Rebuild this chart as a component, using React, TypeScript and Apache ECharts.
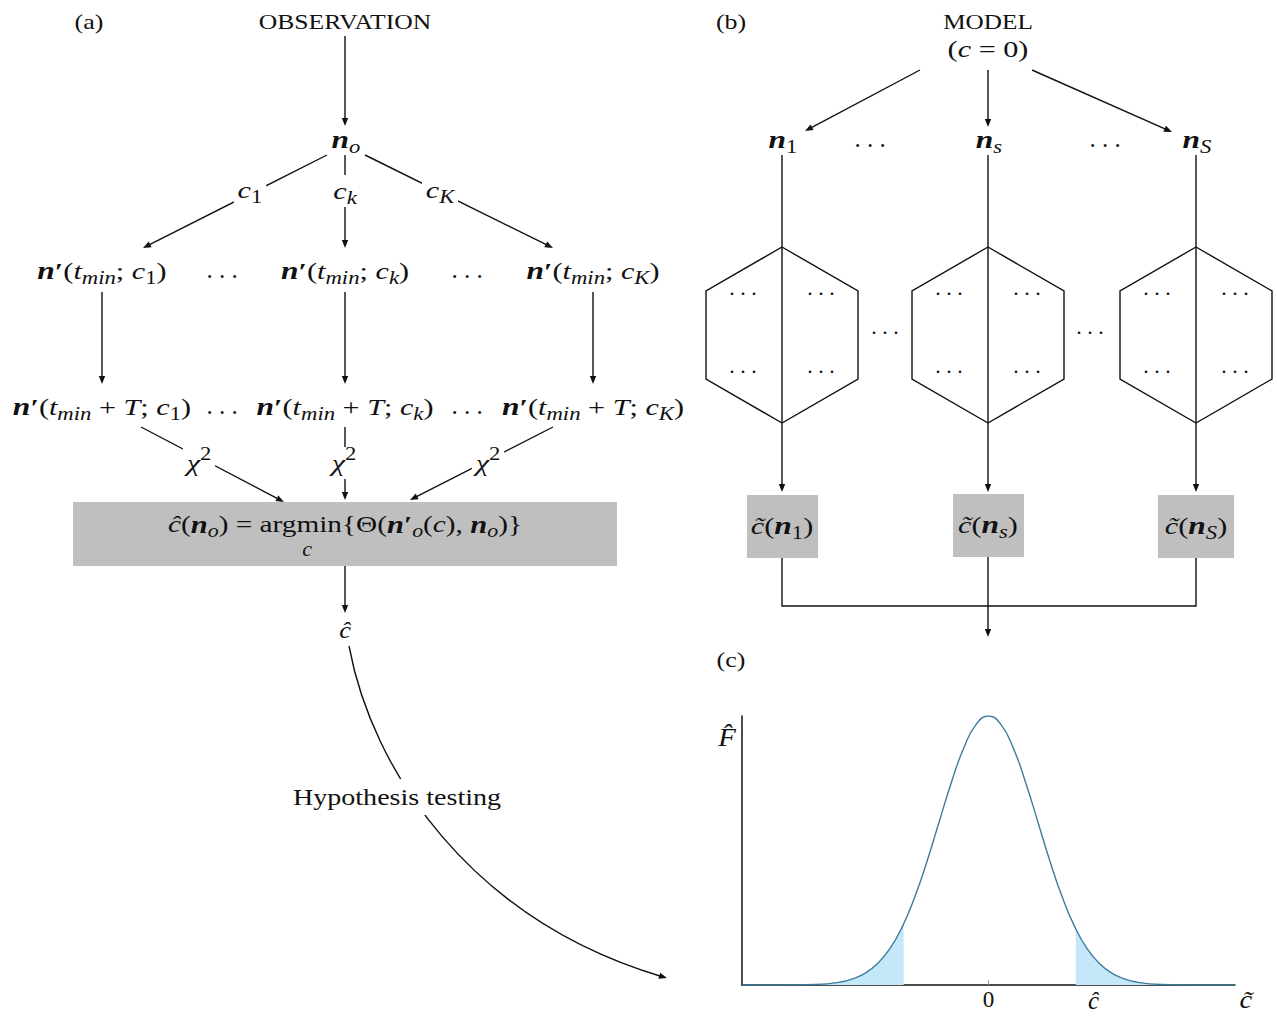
import React, { useEffect, useRef } from 'react';
import * as echarts from 'echarts';

const FF = "'Liberation Serif', 'DejaVu Serif', serif";
const K = '#111111';
const LW = 1.4;
const L = 32;

// Panel (c): distribution (x in units of the spread, y relative to peak)
const curveX = [-5, -4.5, -4, -3.5, -3, -2.75, -2.5, -2.25, -2, -1.75, -1.5, -1.25, -1, -0.75, -0.5, -0.25, 0, 0.25, 0.5, 0.75, 1, 1.25, 1.5, 1.75, 2, 2.25, 2.5, 2.75, 3, 3.5, 4, 4.5, 5];
const curveY = [0, 0.0001, 0.0003, 0.002, 0.011, 0.023, 0.044, 0.08, 0.135, 0.216, 0.325, 0.458, 0.607, 0.755, 0.882, 0.969, 1, 0.969, 0.882, 0.755, 0.607, 0.458, 0.325, 0.216, 0.135, 0.08, 0.044, 0.023, 0.011, 0.002, 0.0003, 0.0001, 0];
const leftTailX = [-5, -4.5, -4, -3.5, -3, -2.75, -2.5, -2.25, -2, -1.75, -1.72];
const leftTailY = [0, 0.0001, 0.0003, 0.002, 0.011, 0.023, 0.044, 0.08, 0.135, 0.216, 0.228];
const rightTailX = [1.77, 2, 2.25, 2.5, 2.75, 3, 3.5, 4, 4.5, 5];
const rightTailY = [0.208, 0.135, 0.08, 0.044, 0.023, 0.011, 0.002, 0.0003, 0.0001, 0];
const tickValues = [0, 2.13];
const tickLabels = ['{r|0}', '{i|ĉ}'];

const base = { fontFamily: FF, fill: K };
const rich: any = {
  r: { ...base, fontSize: 24 },
  i: { ...base, fontSize: 24, fontStyle: 'italic' },
  b: { ...base, fontSize: 25, fontStyle: 'italic', fontWeight: 'bold' },
  p: { ...base, fontSize: 24, fontWeight: 'bold' },
  s: { ...base, fontSize: 18, fontStyle: 'italic', verticalAlign: 'bottom', height: 18 },
  sr: { ...base, fontSize: 18, verticalAlign: 'bottom', height: 18 },
  S: { ...base, fontSize: 18, verticalAlign: 'top', height: 13 },
};

function seg(x1: number, y1: number, x2: number, y2: number) {
  return { type: 'line', silent: true, z: 5, shape: { x1, y1, x2, y2 }, style: { stroke: K, lineWidth: LW } };
}
function head(x2: number, y2: number, ux: number, uy: number) {
  const hl = 8, hw = 3.2;
  const bx = x2 - ux * hl, by = y2 - uy * hl;
  return {
    type: 'polygon', silent: true, z: 5,
    shape: { points: [[x2, y2], [bx - uy * hw, by + ux * hw], [bx + uy * hw, by - ux * hw]] },
    style: { fill: K },
  };
}
function arrow(x1: number, y1: number, x2: number, y2: number) {
  const dx = x2 - x1, dy = y2 - y1, l = Math.hypot(dx, dy);
  const ux = dx / l, uy = dy / l;
  return [seg(x1, y1, x2 - ux * 4, y2 - uy * 4), head(x2, y2, ux, uy)];
}
function tx(x: number, y: number, text: string, o: any = {}) {
  return {
    type: 'text', silent: true, x, y, scaleX: o.sx ?? 1.26, z: 10,
    style: {
      text, align: 'center', verticalAlign: 'middle', fontFamily: FF, fontSize: o.fs ?? 24,
      fontStyle: o.it ? 'italic' : 'normal', fill: K, lineHeight: L, rich,
      backgroundColor: o.bg, padding: o.pad,
    },
  };
}

function buildGraphic() {
  const els: any[] = [];
  const W = '#ffffff';
  const dots = (x: number, y: number, fs = 25) => tx(x, y, '. . .', { fs, sx: 1.0 });
  // ---------- panel (a)
  els.push(tx(89, 22, '(a)', { fs: 22, sx: 1.18 }));
  els.push(tx(345, 22, 'OBSERVATION', { fs: 21, sx: 1.22 }));
  els.push(...arrow(345, 36, 345, 126));
  els.push(tx(346, 140, '{b|n}{s|o}'));
  els.push(...arrow(327, 155, 143, 248));
  els.push(...arrow(345, 155, 345, 248));
  els.push(...arrow(365, 155, 553, 248));
  els.push(tx(250, 190, '{i|c}{sr|1}', { bg: W, pad: [0, 3, 0, 3] }));
  els.push(tx(345, 191, '{i|c}{s|k}', { bg: W, pad: [0, 3, 0, 3] }));
  els.push(tx(440, 190, '{i|c}{s|K}', { bg: W, pad: [0, 3, 0, 3] }));

  const r2 = 271;
  els.push(tx(102, r2, '{b|n}{p|′}{r|(}{i|t}{s|min}{r|; }{i|c}{sr|1}{r|)}'));
  els.push(tx(345, r2, '{b|n}{p|′}{r|(}{i|t}{s|min}{r|; }{i|c}{s|k}{r|)}'));
  els.push(tx(593, r2, '{b|n}{p|′}{r|(}{i|t}{s|min}{r|; }{i|c}{s|K}{r|)}'));
  els.push(dots(222, r2 - 2));
  els.push(dots(467, r2 - 2));
  [102, 345, 593].forEach((x) => els.push(...arrow(x, 292, x, 384)));

  const r3 = 407;
  els.push(tx(102, r3, '{b|n}{p|′}{r|(}{i|t}{s|min}{r| + }{i|T}{r|; }{i|c}{sr|1}{r|)}'));
  els.push(tx(345, r3, '{b|n}{p|′}{r|(}{i|t}{s|min}{r| + }{i|T}{r|; }{i|c}{s|k}{r|)}'));
  els.push(tx(593, r3, '{b|n}{p|′}{r|(}{i|t}{s|min}{r| + }{i|T}{r|; }{i|c}{s|K}{r|)}'));
  els.push(dots(222, r3 - 2));
  els.push(dots(467, r3 - 2));

  els.push(...arrow(141, 427, 284, 502));
  els.push(...arrow(345, 427, 345, 500));
  els.push(...arrow(553, 427, 410, 500));
  els.push(tx(199, 463, '{i|χ}{S|2}', { bg: W, pad: [0, 3, 0, 3] }));
  els.push(tx(344, 463, '{i|χ}{S|2}', { bg: W, pad: [0, 3, 0, 3] }));
  els.push(tx(488, 463, '{i|χ}{S|2}', { bg: W, pad: [0, 3, 0, 3] }));

  els.push({ type: 'rect', silent: true, z: 6, shape: { x: 73, y: 502, width: 544, height: 64 }, style: { fill: '#bfbfbf' } });
  els.push(tx(345, 524, '{i|ĉ}{r|(}{b|n}{s|o}{r|) = argmin{Θ(}{b|n}{p|′}{s|o}{r|(}{i|c}{r|), }{b|n}{s|o}{r|)}}', { sx: 1.22 }));
  els.push(tx(307, 549, 'c', { fs: 20, it: true, sx: 1.1 }));

  els.push(...arrow(345, 566, 345, 613));
  els.push(tx(345, 630, '{i|ĉ}', { sx: 1.1 }));

  els.push({
    type: 'bezierCurve', silent: true, z: 5,
    shape: { x1: 349, y1: 646, cpx1: 372, cpy1: 770, cpx2: 470, cpy2: 920, x2: 663, y2: 977 },
    style: { stroke: K, lineWidth: LW, fill: null },
  });
  {
    const dx = 197, dy = 58, l = Math.hypot(dx, dy);
    els.push(head(667, 978, dx / l, dy / l));
  }
  els.push(tx(397, 797, 'Hypothesis testing', { fs: 24, bg: W, pad: [2, 2, 2, 2], sx: 1.17 }));

  // ---------- panel (b)
  els.push(tx(731, 22, '(b)', { fs: 22, sx: 1.18 }));
  els.push(tx(988, 22, 'MODEL', { fs: 21, sx: 1.2 }));
  els.push(tx(988, 49, '{r|(}{i|c}{r| = 0)}'));
  els.push(...arrow(920, 70, 805, 131));
  els.push(...arrow(988, 70, 988, 127));
  els.push(...arrow(1032, 70, 1172, 132));
  els.push(tx(783, 140, '{b|n}{sr|1}'));
  els.push(tx(989, 140, '{b|n}{s|s}'));
  els.push(tx(1197, 140, '{b|n}{s|S}'));
  els.push(dots(870, 138));
  els.push(dots(1105, 138));

  const hexX = [782, 988, 1196];
  hexX.forEach((cx) => {
    els.push(seg(cx, 155, cx, 423));
    els.push({
      type: 'polygon', silent: true, z: 5,
      shape: { points: [[cx, 247], [cx + 76, 291], [cx + 76, 379], [cx, 423], [cx - 76, 379], [cx - 76, 291]] },
      style: { stroke: K, lineWidth: LW, fill: null },
    });
    [[-39, 287], [39, 287], [-39, 365], [39, 365]].forEach(([ox, oy]) => els.push(dots(cx + ox, oy, 22)));
    els.push(...arrow(cx, 423, cx, 492));
  });
  els.push(dots(885, 326, 22));
  els.push(dots(1090, 326, 22));

  els.push({ type: 'rect', silent: true, z: 6, shape: { x: 747, y: 495, width: 71, height: 63 }, style: { fill: '#bfbfbf' } });
  els.push({ type: 'rect', silent: true, z: 6, shape: { x: 953, y: 494, width: 71, height: 63 }, style: { fill: '#bfbfbf' } });
  els.push({ type: 'rect', silent: true, z: 6, shape: { x: 1158, y: 495, width: 76, height: 63 }, style: { fill: '#bfbfbf' } });
  els.push(tx(782, 526, '{i|c̃}{r|(}{b|n}{sr|1}{r|)}'));
  els.push(tx(988, 525, '{i|c̃}{r|(}{b|n}{s|s}{r|)}'));
  els.push(tx(1196, 526, '{i|c̃}{r|(}{b|n}{s|S}{r|)}'));
  els.push({
    type: 'polyline', silent: true, z: 5,
    shape: { points: [[782, 558], [782, 606], [1196, 606], [1196, 558]] },
    style: { stroke: K, lineWidth: LW, fill: null },
  });
  els.push(...arrow(988, 557, 988, 637));

  // ---------- panel (c)
  els.push(tx(731, 660, '(c)', { fs: 22, sx: 1.18 }));
  els.push(tx(727, 738, 'F̂', { fs: 25, it: true, sx: 1.15 }));
  els.push(tx(1246, 1000, 'c̃', { fs: 25, it: true, sx: 1.15 }));
  return els;
}

export default function App() {
  const ref = useRef<HTMLDivElement>(null);
  useEffect(() => {
    document.body.style.margin = '0';
    const chart = echarts.init(ref.current!, null, { renderer: 'svg' });
    const pts = (xs: number[], ys: number[]) => xs.map((x, i) => [x, ys[i]]);
    chart.setOption({
      animation: false,
      backgroundColor: '#ffffff',
      grid: { left: 742, top: 716, width: 493, height: 269, containLabel: false },
      xAxis: {
        type: 'value', min: -5, max: 5,
        axisLine: { lineStyle: { color: K, width: 1.5 } },
        axisTick: { show: true, customValues: tickValues, inside: true, length: 5, lineStyle: { color: '#999' } },
        axisLabel: {
          customValues: tickValues, margin: 3,
          formatter: (v: number) => tickLabels[tickValues.indexOf(v)] ?? '',
          rich: {
            r: { fontFamily: FF, fontSize: 23, color: K },
            i: { fontFamily: FF, fontSize: 25, fontStyle: 'italic', color: K },
          },
        },
        splitLine: { show: false },
      },
      yAxis: {
        type: 'value', min: 0, max: 1,
        axisLine: { show: true, onZero: false, lineStyle: { color: K, width: 1.5 } },
        axisTick: { show: false }, axisLabel: { show: false }, splitLine: { show: false },
      },
      series: [
        { type: 'line', data: pts(leftTailX, leftTailY), smooth: 0.5, symbol: 'none', lineStyle: { width: 0 }, areaStyle: { color: '#c5e8f8', opacity: 1 }, z: 1 },
        { type: 'line', data: pts(rightTailX, rightTailY), smooth: 0.5, symbol: 'none', lineStyle: { width: 0 }, areaStyle: { color: '#c5e8f8', opacity: 1 }, z: 1 },
        { type: 'line', data: pts(curveX, curveY), smooth: 0.5, symbol: 'none', lineStyle: { color: '#3d7c9e', width: 1.4 }, z: 3 },
      ],
      graphic: { elements: buildGraphic() },
    });
    return () => chart.dispose();
  }, []);
  return <div ref={ref} style={{ width: 1277, height: 1016 }} />;
}
